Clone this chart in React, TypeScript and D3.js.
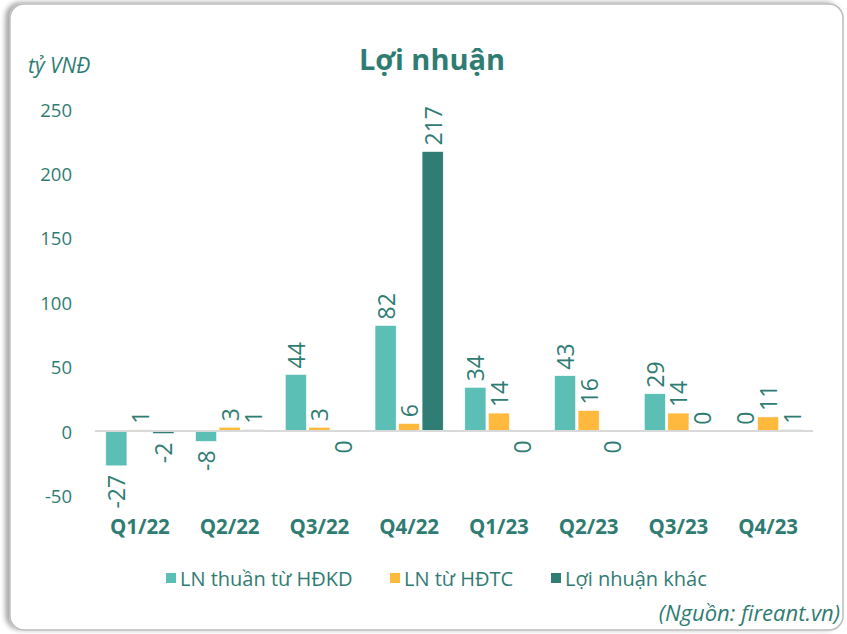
import React from "react";
import * as d3 from "d3";

const quarters = ["Q1/22", "Q2/22", "Q3/22", "Q4/22", "Q1/23", "Q2/23", "Q3/23", "Q4/23"];
const seriesNames = ["LN thuần từ HĐKD", "LN từ HĐTC", "Lợi nhuận khác"];
const lnHDKD = [-27, -8, 44, 82, 34, 43, 29, 0.2];
const lnHDTC = [1, 3, 3, 6, 14, 16, 14, 11];
const lnKhac = [-2, 1, -0.2, 217, -0.2, -0.2, 0.2, 1];
const yTicks = [-50, 0, 50, 100, 150, 200, 250];
const colors = ["#5CBFB6", "#FFBA3D", "#2F7D75"];

const TEXT = "#2F7C73";
const FONT = "'Open Sans', 'Noto Sans', sans-serif";

export default function App() {
  const W = 847, H = 634;
  const y = d3.scaleLinear().domain([-50, 250]).range([495.5, 109]);
  const x0 = d3.scaleBand<string>().domain(quarters).range([95, 813]).paddingInner(0.24).paddingOuter(0.12);
  const x1 = d3.scaleBand<number>().domain([0, 1, 2]).range([0, x0.bandwidth()]).paddingInner(0.1);
  const allSeries = [lnHDKD, lnHDTC, lnKhac];
  const y0 = y(0);

  const legendX = [166, 390, 551];

  return (
    <svg width={W} height={H} style={{ position: "absolute", left: 0, top: 0 }} fontFamily={FONT}>
      <defs>
        <filter id="sh" x="-5%" y="-5%" width="110%" height="110%">
          <feDropShadow dx={-4} dy={-1} stdDeviation={2.5} floodColor="#000" floodOpacity={0.35} />
        </filter>
      </defs>
      <rect x={0} y={0} width={W} height={H} fill="#fff" />
      <rect x={10} y={4} width={833} height={626} rx={14} fill="#fff" stroke="#bdbdbd" strokeWidth={1.5} filter="url(#sh)" />

      <text x={432} y={70} textAnchor="middle" fontSize={29} fontWeight={700} fill={TEXT}>Lợi nhuận</text>
      <text x={28} y={73} fontSize={21} fontStyle="italic" fill={TEXT}>tỷ VNĐ</text>

      {yTicks.map((t) => (
        <text key={t} x={72} y={y(t)} textAnchor="end" dominantBaseline="central" fontSize={18.5} fill={TEXT}>{t}</text>
      ))}

      {allSeries.map((vals, si) =>
        vals.map((v, qi) => {
          const xb = (x0(quarters[qi]) ?? 0) + (x1(si) ?? 0);
          const yv = y(v);
          return (
            <rect key={`b${si}-${qi}`} x={xb} y={Math.min(yv, y0)} width={x1.bandwidth()} height={Math.abs(yv - y0)}
              fill={colors[si]} stroke="#fff" strokeWidth={0.6} />
          );
        })
      )}

      <line x1={95} x2={813} y1={y0} y2={y0} stroke="#d9d9d9" strokeWidth={2} />

      {allSeries.map((vals, si) =>
        vals.map((v, qi) => {
          const cx = (x0(quarters[qi]) ?? 0) + (x1(si) ?? 0) + x1.bandwidth() / 2;
          const pos = v >= 0;
          const yy = pos ? y(v) - 6 : y(v) + 9;
          const r = Math.round(v);
          const label = r === 0 ? "0" : String(r);
          return (
            <text key={`l${si}-${qi}`} transform={`translate(${cx},${yy}) rotate(-90)`}
              textAnchor={pos ? "start" : "end"} dominantBaseline="central" fontSize={23} fill={TEXT}>{label}</text>
          );
        })
      )}

      {quarters.map((q) => (
        <text key={q} x={(x0(q) ?? 0) + x0.bandwidth() / 2} y={526} textAnchor="middle" dominantBaseline="central"
          fontSize={20.5} fontWeight={700} fill={TEXT}>{q}</text>
      ))}

      {seriesNames.map((s, i) => (
        <g key={s}>
          <rect x={legendX[i]} y={573} width={10} height={10} fill={colors[i]} />
          <text x={legendX[i] + 14} y={578} dominantBaseline="central" fontSize={20} fill={TEXT}>{s}</text>
        </g>
      ))}

      <text x={840} y={612} textAnchor="end" dominantBaseline="central" fontSize={22} fontStyle="italic" fill={TEXT}>(Nguồn: fireant.vn)</text>
    </svg>
  );
}
